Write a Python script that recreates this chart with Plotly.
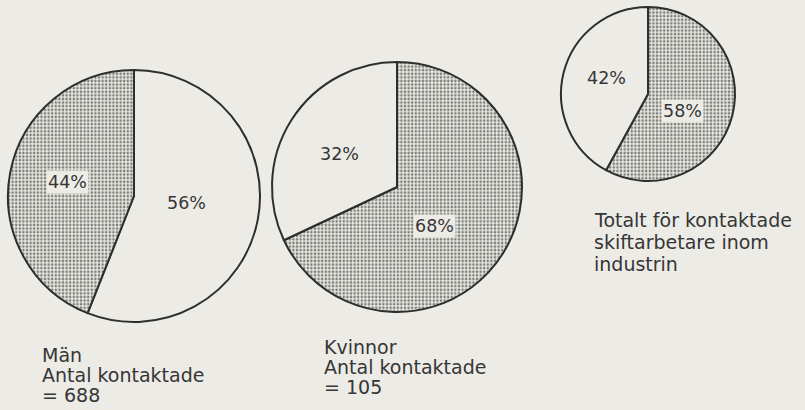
import plotly.graph_objects as go

# Share of contacted shift workers, by group
groups = ["Män", "Kvinnor", "Totalt"]
left_share = [44, 32, 42]
right_share = [56, 68, 58]
shaded_left = [True, False, False]

caption_lines = [
    ["Män", "Antal kontaktade", "= 688"],
    ["Kvinnor", "Antal kontaktade", "= 105"],
    ["Totalt för kontaktade", "skiftarbetare inom", "industrin"],
]

W, H = 805, 410
PAPER = "#ecebe6"
INK = "#363636"
DOT = "#7a7a76"
FONT = "DejaVu Sans"

# pie centre (px) and radius (px)
pie_geom = [(134, 196, 126), (397, 187, 125), (648, 94, 87)]
# percentage label centres (px): (left slice, right slice)
pct_pos = [((67, 182), (186, 203)), ((339, 154), (434, 226)), ((606, 78), (682, 111))]
# caption anchors: left x and line centres (px)
cap_pos = [(40, [355, 375, 395]), (322, [347, 367, 387]), (592, [220, 242, 264])]


def px(x):
    return x / W


def py(y):
    return 1 - y / H


fig = go.Figure()
annotations = []

for i, g in enumerate(groups):
    cx, cy, r = pie_geom[i]
    # slices run clockwise from 12 o'clock: right-hand share first, then left-hand
    vals = [right_share[i], left_share[i]]
    shade = [not shaded_left[i], shaded_left[i]]
    fig.add_trace(go.Pie(
        values=vals,
        labels=[f"{g} höger", f"{g} vänster"],
        sort=False,
        direction="clockwise",
        rotation=0,
        textinfo="none",
        hoverinfo="skip",
        showlegend=False,
        domain=dict(x=[px(cx - r), px(cx + r)], y=[py(cy + r), py(cy - r)]),
        marker=dict(
            colors=["#e4e4de" if s else PAPER for s in shade],
            line=dict(color="#2e2e2e", width=2),
            pattern=dict(
                shape=["." if s else "" for s in shade],
                fgcolor=DOT,
                bgcolor="#e8e8e2",
                size=3.6,
                solidity=0.38,
            ),
        ),
    ))
    for v, (ax, ay) in zip([left_share[i], right_share[i]], pct_pos[i]):
        annotations.append(dict(
            x=px(ax), y=py(ay), xref="paper", yref="paper",
            text=f"{v}%", showarrow=False,
            xanchor="center", yanchor="middle",
            font=dict(family=FONT, size=17.5, color=INK),
            bgcolor=PAPER, borderpad=1,
        ))
    lx, lys = cap_pos[i]
    for line, ly in zip(caption_lines[i], lys):
        annotations.append(dict(
            x=px(lx), y=py(ly), xref="paper", yref="paper",
            text=line, showarrow=False,
            xanchor="left", yanchor="middle",
            font=dict(family=FONT, size=19, color=INK),
        ))

fig.update_layout(
    width=W, height=H,
    margin=dict(l=0, r=0, t=0, b=0),
    paper_bgcolor=PAPER,
    plot_bgcolor=PAPER,
    annotations=annotations,
)

fig.write_html("out.html")
